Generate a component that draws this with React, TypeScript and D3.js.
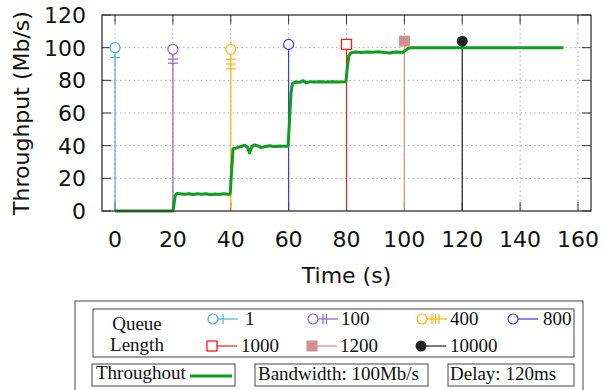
import React from 'react';
import * as d3 from 'd3';

// throughput trace
const timeSec = [0, 20, 20.3, 20.8, 21.5, 22.5, 24, 25.5, 27, 28.5, 30, 31.5, 33, 34.5, 36, 37.5, 39, 39.8,
  40.3, 40.8, 42, 43.5, 44.8, 45.8, 46.5, 47.3, 48.3, 49.5, 50.5, 52, 53.5, 55, 56.5, 58, 59.8,
  60.3, 60.8, 61.3, 62.5, 64, 65, 66, 67.5, 69, 71, 73, 75, 77, 79.8,
  80.3, 80.8, 81.5, 83, 85, 87, 89, 91, 93, 95, 97, 99.5,
  100.5, 101.5, 103, 155];
const throughput = [0, 0, 3, 9.5, 10.8, 10.5, 10.2, 10.6, 10.1, 10.5, 10.2, 10.6, 10.0, 10.4, 10.1, 10.6, 10.2, 10.4,
  25, 38.2, 38.6, 39.5, 40.3, 39, 35.5, 39.5, 40.5, 39.8, 38.8, 39.5, 40, 39.4, 39.8, 39.6, 39.7,
  55, 72, 78, 79, 78.8, 79.8, 78.5, 79.2, 79, 79.2, 79, 79.1, 79, 79.2,
  88, 95, 96.8, 97.3, 97, 97.4, 97.2, 97.5, 97, 96.8, 97.3, 97.2,
  98.5, 99.8, 100, 100];

// queue length markers
const queueLabels = ['1', '100', '400', '800', '1000', '1200', '10000'];
const queueTimes = [0, 20, 40, 60, 80, 100, 120];
const queueValues = [100, 99, 99, 102, 102, 104, 104];
const queueBars = [[94], [93, 90.5], [93, 90, 87], [], [], [], []];
const queueShapes = ['circle', 'circle', 'circle', 'circle', 'square', 'fsquare', 'dot'];
const queueColors = ['#4cb3d6', '#8a68c2', '#ffb400', '#3a3ae0', '#ff1a1a', '#d49090', '#222'];

const xTicks = [0, 20, 40, 60, 80, 100, 120, 140, 160];
const yTicks = [0, 20, 40, 60, 80, 100, 120];

const W = 607;
const H = 390;
const L = 102, R = 591, T = 15, B = 211;
const GREEN = '#0f9d1f';

const x = d3.scaleLinear().domain([-4.5, 164.5]).range([L, R]);
const y = d3.scaleLinear().domain([0, 120]).range([B, T]);

const Marker = ({ shape, cx, cy, color }) => {
  if (shape === 'circle')
    return <circle cx={cx} cy={cy} r={5} fill="white" stroke={color} strokeWidth={1.2} />;
  if (shape === 'square')
    return <rect x={cx - 5} y={cy - 5} width={10} height={10} fill="white" stroke={color} strokeWidth={1.3} />;
  if (shape === 'fsquare')
    return <rect x={cx - 5.5} y={cy - 5.5} width={11} height={11} fill={color} />;
  return <circle cx={cx} cy={cy} r={5.5} fill={color} />;
};

const App = () => {
  const line = d3.line<number>()
    .x((_, i) => x(timeSec[i]))
    .y(d => y(d));

  const tickFont = { fontFamily: 'DejaVu Sans', fontSize: 22, fill: '#111' };
  const serif = { fontFamily: 'Liberation Serif', fontSize: 19, fill: '#111' };

  // legend slots
  const slotX = [213, 313, 422, 513, 212, 312, 421];
  const slotY = [319, 319, 319, 319, 346, 346, 346];
  const textX = [245, 341, 450, 543, 241, 340, 450];

  return (
    <svg width={W} height={H} style={{ position: 'absolute', left: 0, top: 0, background: 'white' }}>
      {/* grid */}
      {yTicks.slice(1, -1).map(t => (
        <line key={'gy' + t} x1={L} x2={R} y1={y(t)} y2={y(t)} stroke="#a8a8a8" strokeDasharray="1.5,3" />
      ))}
      {xTicks.map(t => (
        <line key={'gx' + t} x1={x(t)} x2={x(t)} y1={T} y2={B} stroke="#a8a8a8" strokeDasharray="1.5,3" />
      ))}
      {/* inward ticks on all four sides */}
      {yTicks.map(t => (
        <g key={'ty' + t} stroke="#333">
          <line x1={L} x2={L + 9} y1={y(t)} y2={y(t)} />
          <line x1={R} x2={R - 9} y1={y(t)} y2={y(t)} />
        </g>
      ))}
      {xTicks.map(t => (
        <g key={'tx' + t} stroke="#333">
          <line x1={x(t)} x2={x(t)} y1={B} y2={B - 9} />
          <line x1={x(t)} x2={x(t)} y1={T} y2={T + 9} />
        </g>
      ))}

      {/* queue length impulses */}
      {queueTimes.map((t, i) => (
        <g key={'q' + i}>
          <line x1={x(t)} x2={x(t)} y1={y(0)} y2={y(queueValues[i])} stroke={queueColors[i]} strokeWidth={1.2} />
          {queueBars[i].map((v, j) => (
            <line key={j} x1={x(t) - 5} x2={x(t) + 5} y1={y(v)} y2={y(v)} stroke={queueColors[i]} strokeWidth={1.2} />
          ))}
        </g>
      ))}

      <path d={line(throughput) || ''} fill="none" stroke={GREEN} strokeWidth={3} strokeLinejoin="round" />

      {queueTimes.map((t, i) => (
        <Marker key={'m' + i} shape={queueShapes[i]} cx={x(t)} cy={y(queueValues[i])} color={queueColors[i]} />
      ))}

      <rect x={L} y={T} width={R - L} height={B - T} fill="none" stroke="#333" strokeWidth={1.3} />

      {/* axis labels */}
      {yTicks.map(t => (
        <text key={'ly' + t} x={86} y={y(t)} dy="0.36em" textAnchor="end" {...tickFont}>{t}</text>
      ))}
      {xTicks.map(t => (
        <text key={'lx' + t} x={x(t)} y={247} textAnchor="middle" {...tickFont}>{t}</text>
      ))}
      <text x={(L + R) / 2} y={283} textAnchor="middle" {...tickFont}>Time (s)</text>
      <text transform={`translate(29,${(T + B) / 2}) rotate(-90)`} textAnchor="middle" {...tickFont}>Throughput (Mb/s)</text>

      {/* legend */}
      <rect x={75} y={301} width={508} height={95} fill="none" stroke="#444" strokeWidth={1} />
      <rect x={93} y={309} width={481} height={48} fill="none" stroke="#444" strokeWidth={1} />
      <text x={137} y={330} textAnchor="middle" {...serif}>Queue</text>
      <text x={137} y={351} textAnchor="middle" {...serif}>Length</text>
      {queueLabels.map((lab, i) => (
        <g key={'lg' + i}>
          <line x1={slotX[i]} x2={slotX[i] + 25} y1={slotY[i]} y2={slotY[i]} stroke={queueColors[i]} strokeWidth={1.2} />
          {queueBars[i].map((_, j) => (
            <line key={j} x1={slotX[i] + 10 + j * 3.5} x2={slotX[i] + 10 + j * 3.5} y1={slotY[i] - 5} y2={slotY[i] + 5}
              stroke={queueColors[i]} strokeWidth={1.2} />
          ))}
          <Marker shape={queueShapes[i]} cx={slotX[i]} cy={slotY[i]} color={queueColors[i]} />
          <text x={textX[i]} y={slotY[i] + 6} {...serif}>{lab}</text>
        </g>
      ))}

      <rect x={92} y={364} width={143} height={22} fill="none" stroke="#444" />
      <text x={96} y={379} {...serif}>Throughout</text>
      <line x1={190} x2={232} y1={376} y2={376} stroke={GREEN} strokeWidth={3} />
      <rect x={255} y={364} width={173} height={22} fill="none" stroke="#444" />
      <text x={258} y={380} {...serif}>Bandwidth: 100Mb/s</text>
      <rect x={448} y={364} width={126} height={22} fill="none" stroke="#444" />
      <text x={450} y={380} {...serif}>Delay: 120ms</text>
    </svg>
  );
};

export default App;
